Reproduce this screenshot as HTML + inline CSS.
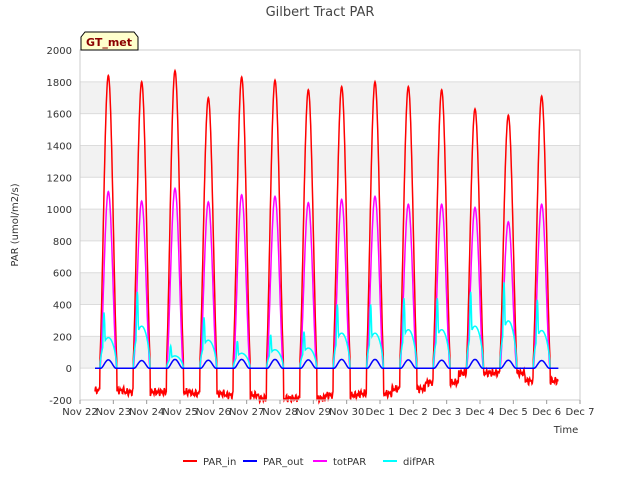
<!DOCTYPE html>
<html><head><meta charset="utf-8">
<style>
body{margin:0;background:#fff;font-family:"Liberation Sans","DejaVu Sans",sans-serif;}
svg text{font-family:"DejaVu Sans","Liberation Sans",sans-serif;}
</style></head>
<body>
<svg id="chart" width="640" height="480">
<rect width="640" height="480" fill="#fff"/>
<text x="320" y="16" text-anchor="middle" font-size="13" fill="#444">Gilbert Tract PAR</text>
<g id="grid"></g>
<g id="series"></g>
<g id="axes"></g>
<text x="18" y="225" transform="rotate(-90 18 225)" text-anchor="middle" font-size="10" fill="#333">PAR (umol/m2/s)</text>
<text x="566" y="433" text-anchor="middle" font-size="10" fill="#333">Time</text>
<g>
<path d="M81,50 L81,37 L85,32 L134,32 L138,37 L138,50 Z" fill="#ffffcc" stroke="#000"/>
<text x="109" y="46" text-anchor="middle" font-size="11" font-weight="bold" fill="#8b0000">GT_met</text>
</g>
<g id="legend"></g>
</svg>
<script>
const yTicks=[-200,0,200,400,600,800,1000,1200,1400,1600,1800,2000];
const xTickLabels=["Nov 22","Nov 23","Nov 24","Nov 25","Nov 26","Nov 27","Nov 28","Nov 29","Nov 30","Dec 1","Dec 2","Dec 3","Dec 4","Dec 5","Dec 6","Dec 7"];
const parInPeaks=[1840,1800,1870,1700,1830,1810,1750,1770,1800,1770,1750,1630,1590,1710];
const totParPeaks=[1110,1050,1130,1045,1090,1080,1040,1060,1080,1030,1030,1010,920,1030];
const difParPeaks=[350,480,140,320,170,210,230,400,400,440,440,480,540,430];
const parOutPeaks=[52,48,55,50,55,55,52,55,55,52,50,55,50,48];
const nightParIn=[-140,-150,-150,-160,-170,-190,-190,-170,-160,-130,-90,-30,-30,-80];
const seriesNames=["PAR_in","PAR_out","totPAR","difPAR"];
const seriesColors=["#ff0000","#0000ff","#ff00ff","#00ffff"];

const X0=80,X1=580,Y0=400,Y1=50;
const xs=d=>X0+(d/15)*(X1-X0);
const ys=v=>Y0-(v+200)/2200*(Y0-Y1);
const NS="http://www.w3.org/2000/svg";
function mk(tag,attrs,parent){const e=document.createElementNS(NS,tag);for(const k in attrs)e.setAttribute(k,attrs[k]);parent.appendChild(e);return e;}
const grid=document.getElementById('grid'),axes=document.getElementById('axes'),ser=document.getElementById('series'),leg=document.getElementById('legend');
for(let i=0;i<yTicks.length-1;i++){
  const a=yTicks[i],b=yTicks[i+1];
  const band=mk('rect',{x:X0,y:ys(b),width:X1-X0,height:ys(a)-ys(b),fill:(i%2===1)?'#f2f2f2':'#ffffff'},grid);
  
  
}
yTicks.forEach(v=>{
  const l=mk('line',{x1:X0,x2:X1,y1:ys(v),y2:ys(v),stroke:'#dcdcdc'},grid);
  
  
  const t=mk('text',{x:X0-8,y:ys(v)+4,'text-anchor':'end','font-size':10,fill:'#333'},axes);
  t.textContent=v;
  
  
});
mk('rect',{x:X0,y:Y1,width:X1-X0,height:Y0-Y1,fill:'none',stroke:'#ccc'},axes);
xTickLabels.forEach((s,i)=>{
  mk('line',{x1:xs(i),x2:xs(i),y1:Y0,y2:Y0+4,stroke:'#999'},axes);
  const t=mk('text',{x:xs(i),y:Y0+15,'text-anchor':'middle','font-size':10,fill:'#333'},axes);
  t.textContent=s;
  
  
});
const nDays=parInPeaks.length, start=0.45, end=14.35, step=0.01;
function shape(d,i,halfw){const c=i+0.85;const u=(d-c)/halfw;return Math.abs(u)<1?Math.pow(Math.cos(u*Math.PI/2),1.6):0;}
function dayOf(d){return Math.min(nDays-1,Math.max(0,Math.round(d-0.85)));}
const pts=[[],[],[],[]];
for(let d=start;d<=end;d+=step){
  const i=dayOf(d);
  const s=shape(d,i,0.27);
  const inV=s>0.02?Math.max(nightParIn[i],parInPeaks[i]*s):nightParIn[i]+25*Math.sin(d*90)*Math.sin(d*23);
  pts[0].push([d,inV]);
  pts[1].push([d,parOutPeaks[i]*shape(d,i,0.22)]);
  pts[2].push([d,totParPeaks[i]*shape(d,i,0.25)]);
  const sd=shape(d,i,0.25);
  const sp=shape(d,i-0.13,0.06);
  pts[3].push([d,sd>0?difParPeaks[i]*Math.max(sp,0.55*Math.pow(sd,0.35)):0]);
}
[0,2,3,1].forEach(k=>{
  const p=mk('path',{d:pts[k].map((q,j)=>(j?'L':'M')+xs(q[0]).toFixed(1)+','+ys(q[1]).toFixed(1)).join(''),fill:'none',stroke:seriesColors[k],'stroke-width':1.5},ser);
  
  
});
const lx=[183,243,313,383];
seriesNames.forEach((n,i)=>{
  const g=mk('g',{},leg);
  
  
  mk('line',{x1:lx[i],x2:lx[i]+14,y1:461,y2:461,stroke:seriesColors[i],'stroke-width':2},g);
  const t=mk('text',{x:lx[i]+20,y:465,'font-size':10,fill:'#333'},g);
  t.textContent=n;
});
</script>
</body></html>
